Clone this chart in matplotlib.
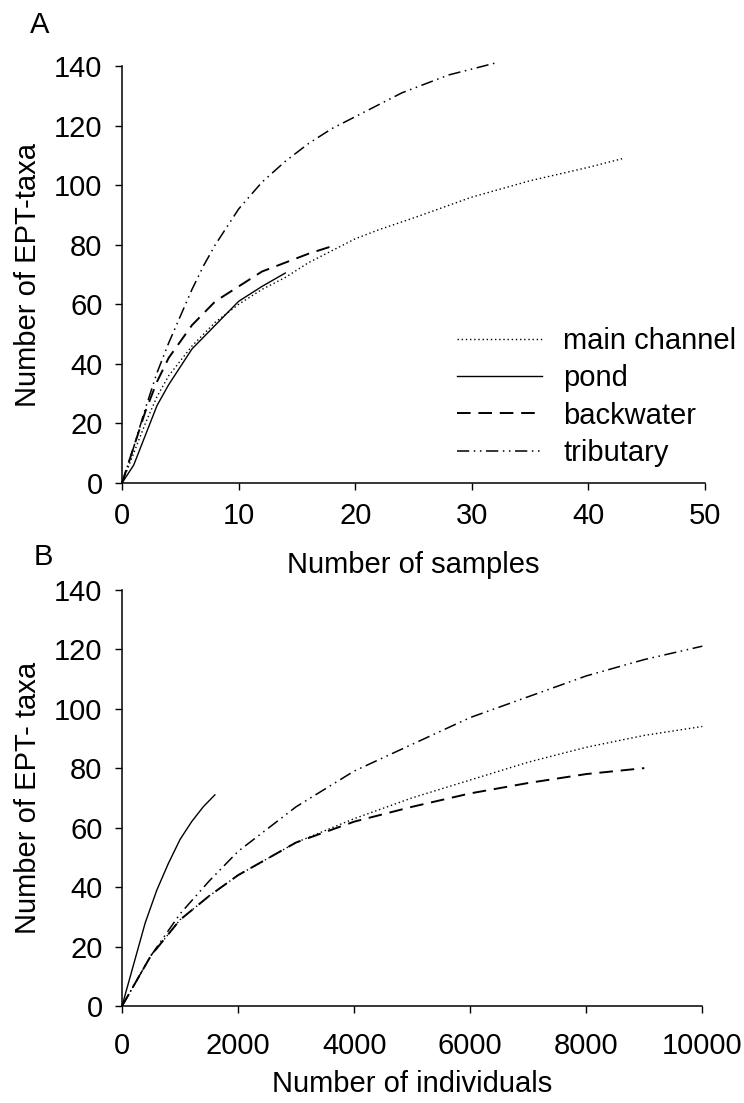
import numpy as np
import matplotlib.pyplot as plt

plt.rcParams['font.family'] = ['Liberation Sans', 'DejaVu Sans']
plt.rcParams['font.size'] = 21

# panel A: number of samples
samp_main_x = [0, 1, 2, 3, 4, 6, 8, 10, 12, 14, 16, 18, 20, 22, 25, 30, 35, 40, 43]
samp_main_y = [0, 10, 20, 29, 36, 46, 54, 60, 65, 69, 74, 78, 82, 85, 89, 96, 101.5, 106, 109]
samp_pond_x = [0, 1, 2, 3, 4, 5, 6, 8, 10, 12, 14]
samp_pond_y = [0, 6, 16, 26, 33, 39, 45, 53, 61, 66, 70.5]
samp_back_x = [0, 1, 2, 3, 4, 6, 8, 10, 12, 14, 16, 18]
samp_back_y = [0, 12, 24, 34, 42, 53, 61, 66, 71, 74, 77, 79.5]
samp_trib_x = [0, 1, 2, 3, 4, 5, 6, 7, 8, 10, 12, 14, 16, 18, 20, 22, 24, 26, 28, 30, 32]
samp_trib_y = [0, 12, 25, 37, 47, 56, 65, 73, 80, 92, 101, 108, 114, 119, 123, 127, 131, 134, 137, 139, 141]

# panel B: number of individuals
ind_main_x = [0, 500, 1000, 1500, 2000, 3000, 4000, 5000, 6000, 7000, 8000, 9000, 10000]
ind_main_y = [0, 17, 29, 37, 44, 55, 63, 70, 76, 82, 87, 91, 94]
ind_pond_x = [0, 100, 200, 300, 400, 600, 800, 1000, 1200, 1400, 1600]
ind_pond_y = [0, 7, 14, 21, 28, 39, 48, 56, 62, 67, 71]
ind_back_x = [0, 500, 1000, 1500, 2000, 3000, 4000, 5000, 6000, 7000, 8000, 9000]
ind_back_y = [0, 17, 29, 37, 44, 55, 62, 67, 71.5, 75, 78, 80]
ind_trib_x = [0, 500, 1000, 1500, 2000, 3000, 4000, 5000, 6000, 7000, 8000, 9000, 10000]
ind_trib_y = [0, 17, 31, 42, 52, 67, 79, 88, 97, 104, 111, 116.5, 121]

labels = ["main channel", "pond", "backwater", "tributary"]
styles = [dict(ls=(0, (1, 2)), lw=1.0),
          dict(ls='-', lw=1.0),
          dict(ls=(0, (7, 4)), lw=1.4),
          dict(ls=(0, (8, 3, 1, 3, 1, 3)), lw=1.1)]


def style_axes(ax, xmax, xticks, xpad):
    ax.set_xlim(0, xmax)
    ax.set_ylim(0, 140)
    ax.set_yticks(np.arange(0, 141, 20))
    ax.set_xticks(xticks)
    for s in ['top', 'right']:
        ax.spines[s].set_visible(False)
    for s in ['left', 'bottom']:
        ax.spines[s].set_linewidth(1.1)
    ax.tick_params(direction='out', length=5, width=1, labelsize=21)
    ax.tick_params(axis='y', pad=9)
    ax.tick_params(axis='x', pad=xpad)


fig = plt.figure(figsize=(7.44, 11.03), dpi=100)

axA = fig.add_axes([0.164, 0.5621, 0.7836, 0.378])
for x, y, lab, st in zip([samp_main_x, samp_pond_x, samp_back_x, samp_trib_x],
                         [samp_main_y, samp_pond_y, samp_back_y, samp_trib_y],
                         labels, styles):
    axA.plot(x, y, color='black', label=lab, clip_on=False, **st)
style_axes(axA, 50, np.arange(0, 51, 10), 9)
axA.set_xlabel("Number of samples", labelpad=15)
axA.set_ylabel("Number of EPT-taxa", labelpad=9)
axA.legend(loc='center left', bbox_to_anchor=(457 / 744, 1 - 397 / 1103),
           bbox_transform=fig.transFigure, frameon=False, borderpad=0,
           borderaxespad=0, handlelength=2.9, handletextpad=0.75,
           labelspacing=0.32, fontsize=21)

axB = fig.add_axes([0.164, 0.0879, 0.78, 0.3775])
for x, y, st in zip([ind_main_x, ind_pond_x, ind_back_x, ind_trib_x],
                    [ind_main_y, ind_pond_y, ind_back_y, ind_trib_y],
                    styles):
    axB.plot(x, y, color='black', clip_on=False, **st)
style_axes(axB, 10000, np.arange(0, 10001, 2000), 14)
axB.set_xlabel("Number of individuals", labelpad=7)
axB.set_ylabel("Number of EPT- taxa", labelpad=9)

fig.text(40 / 744, 1 - 25 / 1103, "A", ha='center', va='center', fontsize=21)
fig.text(43 / 744, 1 - 557 / 1103, "B", ha='center', va='center', fontsize=21)

fig.savefig("out.png", dpi=100)
